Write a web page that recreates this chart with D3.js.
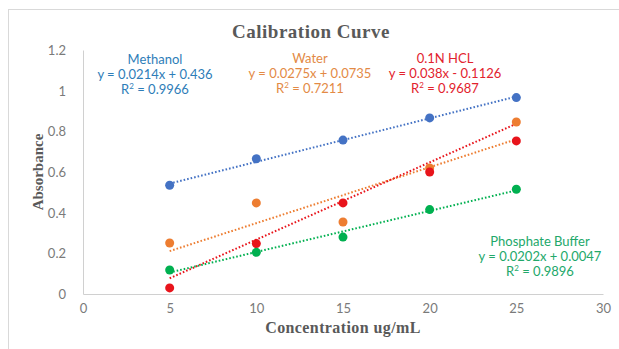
<!DOCTYPE html>
<html>
<head>
<meta charset="utf-8">
<script src="https://cdn.jsdelivr.net/npm/d3@7"></script>
<style>
  html, body { margin: 0; padding: 0; background: #fff; }
  svg { display: block; }
</style>
</head>
<body>
<svg id="chart" width="619" height="349"></svg>
<script>
// Concentrations (ug/mL) shared by every series
const concentrations = [5, 10, 15, 20, 25];

// Measured absorbance for each solvent
const methanol = [0.535, 0.665, 0.757, 0.866, 0.966];
const water = [0.251, 0.448, 0.354, 0.620, 0.846];
const hcl = [0.030, 0.248, 0.448, 0.600, 0.753];
const phosphate = [0.118, 0.205, 0.280, 0.415, 0.515];

// Linear trendline coefficients [slope, intercept] and R² values
const seriesNames = ["Methanol", "Water", "0.1N HCL", "Phosphate Buffer"];
const slopes = [0.0214, 0.0275, 0.038, 0.0202];
const intercepts = [0.436, 0.0735, -0.1126, 0.0047];
const equations = ["y = 0.0214x + 0.436", "y = 0.0275x + 0.0735", "y = 0.038x - 0.1126", "y = 0.0202x + 0.0047"];
const rSquared = ["0.9966", "0.7211", "0.9687", "0.9896"];

// Axis ticks
const xTicks = [0, 5, 10, 15, 20, 25, 30];
const yTicks = [0, 0.2, 0.4, 0.6, 0.8, 1, 1.2];

const pointColors = ["#4472C4", "#ED7D31", "#E8141B", "#00B050"];
const textColors = ["#2E7DB8", "#E38A45", "#E2222D", "#22A86A"];
const labelAnchors = [[155, 64], [310, 63], [445, 63], [540, 246]];

const seriesValues = [methanol, water, hcl, phosphate];

const svg = d3.select("#chart");

// Chart frame
svg.append("rect")
  .attr("x", 8.5).attr("y", 9.5)
  .attr("width", 700).attr("height", 400)
  .attr("fill", "#fff")
  .attr("stroke", "#D9D9D9");

const x = d3.scaleLinear().domain([0, 30]).range([83, 603]);
const y = d3.scaleLinear().domain([0, 1.2]).range([294, 50]);

// Axes
const xAxis = svg.append("g")
  .attr("transform", `translate(0,${y(0)})`)
  .call(d3.axisBottom(x).tickValues(xTicks).tickSize(0).tickPadding(10).tickFormat(d3.format("d")));
const yAxis = svg.append("g")
  .attr("transform", `translate(${x(0)},0)`)
  .call(d3.axisLeft(y).tickValues(yTicks).tickSize(0).tickPadding(17).tickFormat(d => d3.format("")(d)));

[xAxis, yAxis].forEach(g => {
  g.select(".domain").attr("stroke", "#D0D0D0").attr("stroke-width", 1);
  g.selectAll("text")
    .attr("fill", "#7A7A7A")
    .style("font-family", "Lato, 'Open Sans', sans-serif")
    .style("font-size", "13px");
});
yAxis.selectAll("text").attr("dy", "0.35em");

// Trendlines drawn from their fitted equations
seriesValues.forEach((vals, i) => {
  const x0 = d3.min(concentrations), x1 = d3.max(concentrations);
  svg.append("line")
    .attr("x1", x(x0)).attr("y1", y(slopes[i] * x0 + intercepts[i]))
    .attr("x2", x(x1)).attr("y2", y(slopes[i] * x1 + intercepts[i]))
    .attr("stroke", pointColors[i])
    .attr("stroke-width", 2)
    .attr("stroke-dasharray", "1.6,2");
});

// Data points
seriesValues.forEach((vals, i) => {
  svg.append("g").selectAll("circle")
    .data(vals)
    .join("circle")
    .attr("cx", (d, j) => x(concentrations[j]))
    .attr("cy", d => y(d))
    .attr("r", 4.5)
    .attr("fill", pointColors[i]);
});

// Trendline labels
seriesNames.forEach((name, i) => {
  const [cx, cy] = labelAnchors[i];
  const t = svg.append("text")
    .attr("text-anchor", "middle")
    .attr("fill", textColors[i])
    .style("font-family", "Lato, 'Open Sans', sans-serif")
    .style("font-size", "13px");
  t.append("tspan").attr("x", cx).attr("y", cy).text(name);
  t.append("tspan").attr("x", cx).attr("y", cy + 15).text(equations[i]);
  const r = t.append("tspan").attr("x", cx).attr("y", cy + 30);
  r.append("tspan").text("R");
  r.append("tspan").attr("dy", -5).style("font-size", "8px").text("2");
  r.append("tspan").attr("dy", 5).text(" = " + rSquared[i]);
});

// Title and axis titles
svg.append("text")
  .attr("x", 311).attr("y", 38)
  .attr("text-anchor", "middle")
  .attr("fill", "#595959")
  .style("font-family", "'Liberation Serif', 'Times New Roman', serif")
  .style("font-weight", "bold")
  .style("font-size", "19px")
  .style("letter-spacing", "0.5px")
  .text("Calibration Curve");

svg.append("text")
  .attr("x", 343).attr("y", 333)
  .attr("text-anchor", "middle")
  .attr("fill", "#595959")
  .style("font-family", "'Liberation Serif', 'Times New Roman', serif")
  .style("font-weight", "bold")
  .style("font-size", "16px")
  .style("letter-spacing", "0.4px")
  .text("Concentration ug/mL");

svg.append("text")
  .attr("transform", "translate(43,172) rotate(-90)")
  .attr("text-anchor", "middle")
  .attr("fill", "#595959")
  .style("font-family", "'Liberation Serif', 'Times New Roman', serif")
  .style("font-weight", "bold")
  .style("font-size", "15px")
  .text("Absorbance");
</script>
</body>
</html>
